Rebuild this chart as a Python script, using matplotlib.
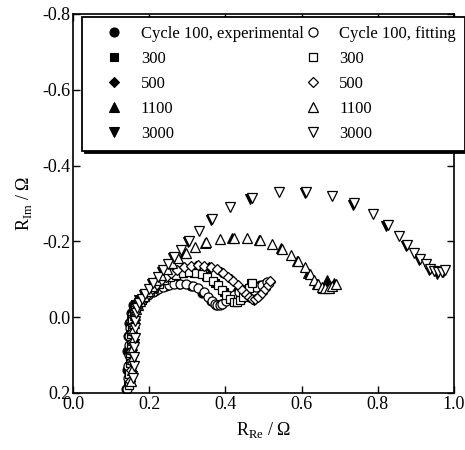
import matplotlib
matplotlib.use("Agg")
import matplotlib.pyplot as plt

plt.rcParams["font.family"] = ["Liberation Serif", "DejaVu Serif"]
plt.rcParams["mathtext.fontset"] = "custom"
plt.rcParams["mathtext.rm"] = "Liberation Serif"
plt.rcParams["axes.unicode_minus"] = False

# Cycle 100 -- fitting (open circles)
x100_fit = [0.143, 0.144, 0.145, 0.146, 0.147, 0.148, 0.150, 0.152, 0.155, 0.160, 0.167,
            0.176, 0.186, 0.197, 0.209, 0.222, 0.236, 0.251, 0.266, 0.282, 0.298, 0.314,
            0.329, 0.343, 0.355, 0.365, 0.373, 0.379, 0.385, 0.392, 0.401, 0.412, 0.424,
            0.437, 0.451, 0.466, 0.481, 0.496, 0.510]
y100_fit = [0.19, 0.16, 0.13, 0.10, 0.075, 0.05, 0.03, 0.01, -0.005, -0.02, -0.032,
            -0.042, -0.05, -0.058, -0.066, -0.073, -0.079, -0.084, -0.087, -0.088, -0.087, -0.083,
            -0.076, -0.066, -0.054, -0.043, -0.035, -0.031, -0.031, -0.035, -0.042, -0.050, -0.058,
            -0.066, -0.072, -0.076, -0.080, -0.085, -0.092]

# Cycle 300 -- fitting (open squares)
x300_fit = [0.147, 0.148, 0.149, 0.150, 0.151, 0.152, 0.154, 0.156, 0.159, 0.164, 0.171,
            0.180, 0.190, 0.201, 0.213, 0.226, 0.240, 0.255, 0.271, 0.288, 0.305, 0.322,
            0.338, 0.353, 0.367, 0.380, 0.392, 0.403, 0.413, 0.422, 0.430, 0.438, 0.446,
            0.454, 0.462, 0.470]
y300_fit = [0.18, 0.15, 0.12, 0.095, 0.07, 0.045, 0.025, 0.005, -0.01, -0.024, -0.035,
            -0.045, -0.055, -0.066, -0.077, -0.088, -0.098, -0.106, -0.112, -0.116, -0.118, -0.117,
            -0.113, -0.106, -0.096, -0.084, -0.071, -0.058, -0.047, -0.041, -0.040, -0.045, -0.054,
            -0.065, -0.077, -0.090]

# Cycle 500 -- fitting (open diamonds)
x500_fit = [0.150, 0.151, 0.152, 0.153, 0.154, 0.155, 0.157, 0.159, 0.162, 0.167, 0.174,
            0.183, 0.193, 0.204, 0.216, 0.229, 0.243, 0.258, 0.274, 0.291, 0.309, 0.327,
            0.345, 0.362, 0.378, 0.393, 0.407, 0.420, 0.432, 0.443, 0.453, 0.462, 0.471,
            0.479, 0.487, 0.495, 0.503, 0.511, 0.518]
y500_fit = [0.17, 0.14, 0.115, 0.09, 0.065, 0.04, 0.02, 0.0, -0.015, -0.028, -0.038,
            -0.048, -0.059, -0.071, -0.083, -0.095, -0.107, -0.117, -0.125, -0.131, -0.135, -0.137,
            -0.136, -0.132, -0.126, -0.117, -0.107, -0.096, -0.084, -0.072, -0.061, -0.052, -0.047,
            -0.047, -0.053, -0.063, -0.074, -0.085, -0.095]

# Cycle 1100 -- fitting (open up-triangles)
x1100_fit = [0.153, 0.154, 0.155, 0.156, 0.157, 0.158, 0.160, 0.162, 0.165, 0.170, 0.177,
             0.186, 0.196, 0.207, 0.219, 0.232, 0.246, 0.261, 0.277, 0.296, 0.320, 0.350,
             0.385, 0.422, 0.458, 0.492, 0.523, 0.550, 0.572, 0.592, 0.608, 0.622, 0.634,
             0.644, 0.653, 0.662, 0.671, 0.680, 0.690]
y1100_fit = [0.17, 0.14, 0.11, 0.085, 0.06, 0.035, 0.015, -0.005, -0.02, -0.033, -0.043,
             -0.055, -0.068, -0.082, -0.097, -0.112, -0.127, -0.142, -0.156, -0.170, -0.185, -0.198,
             -0.206, -0.209, -0.208, -0.203, -0.193, -0.180, -0.165, -0.148, -0.131, -0.114, -0.099,
             -0.087, -0.079, -0.076, -0.077, -0.081, -0.088]

# Cycle 3000 -- fitting (open down-triangles)
x3000_fit = [0.158, 0.159, 0.160, 0.161, 0.162, 0.163, 0.164, 0.166, 0.169, 0.174, 0.181,
             0.190, 0.200, 0.211, 0.223, 0.236, 0.250, 0.266, 0.284, 0.305, 0.330, 0.365,
             0.412, 0.470, 0.540, 0.612, 0.680, 0.738, 0.788, 0.826, 0.856, 0.878, 0.896,
             0.912, 0.926, 0.938, 0.949, 0.959, 0.968, 0.977]
y3000_fit = [0.16, 0.13, 0.105, 0.08, 0.055, 0.03, 0.01, -0.01, -0.025, -0.038, -0.048,
             -0.060, -0.074, -0.090, -0.106, -0.123, -0.140, -0.158, -0.177, -0.200, -0.226, -0.258,
             -0.290, -0.314, -0.329, -0.330, -0.320, -0.300, -0.272, -0.243, -0.215, -0.190, -0.170,
             -0.153, -0.139, -0.128, -0.121, -0.118, -0.119, -0.123]

# experimental points (filled)
x100_exp = [0.140, 0.141, 0.143, 0.145, 0.148, 0.152, 0.158, 0.170, 0.190, 0.215, 0.245,
            0.278, 0.310, 0.340, 0.362, 0.376, 0.388, 0.405, 0.430, 0.460, 0.490, 0.508]
y100_exp = [0.19, 0.14, 0.09, 0.05, 0.015, -0.01, -0.032, -0.042, -0.054, -0.070, -0.083,
            -0.087, -0.081, -0.063, -0.043, -0.031, -0.034, -0.047, -0.065, -0.077, -0.084, -0.091]

x300_exp = [0.144, 0.146, 0.148, 0.150, 0.153, 0.157, 0.163, 0.175, 0.195, 0.220, 0.250,
            0.284, 0.318, 0.348, 0.374, 0.396, 0.414, 0.428, 0.442, 0.456, 0.468]
y300_exp = [0.18, 0.13, 0.085, 0.045, 0.01, -0.015, -0.035, -0.046, -0.062, -0.085, -0.104,
            -0.115, -0.116, -0.108, -0.090, -0.066, -0.046, -0.039, -0.050, -0.070, -0.089]

x500_exp = [0.147, 0.149, 0.151, 0.153, 0.156, 0.160, 0.166, 0.178, 0.198, 0.224, 0.254,
            0.288, 0.324, 0.358, 0.388, 0.414, 0.437, 0.457, 0.474, 0.489, 0.504, 0.516]
y500_exp = [0.17, 0.125, 0.08, 0.04, 0.005, -0.02, -0.038, -0.050, -0.066, -0.090, -0.114,
            -0.130, -0.136, -0.133, -0.119, -0.101, -0.078, -0.057, -0.046, -0.055, -0.076, -0.093]

x1100_exp = [0.150, 0.152, 0.154, 0.156, 0.159, 0.163, 0.169, 0.182, 0.203, 0.228, 0.256,
             0.292, 0.346, 0.418, 0.488, 0.546, 0.588, 0.618, 0.640, 0.656, 0.668, 0.686]
y1100_exp = [0.165, 0.12, 0.075, 0.035, 0.0, -0.025, -0.040, -0.053, -0.079, -0.109, -0.139,
             -0.168, -0.196, -0.208, -0.203, -0.181, -0.149, -0.115, -0.088, -0.078, -0.098, -0.090]

x3000_exp = [0.155, 0.157, 0.159, 0.161, 0.164, 0.168, 0.174, 0.187, 0.208, 0.233, 0.263,
             0.302, 0.362, 0.466, 0.608, 0.734, 0.822, 0.874, 0.908, 0.934, 0.955, 0.972]
y3000_exp = [0.155, 0.11, 0.07, 0.03, -0.005, -0.03, -0.045, -0.058, -0.087, -0.120, -0.155,
             -0.197, -0.255, -0.311, -0.327, -0.297, -0.240, -0.187, -0.150, -0.125, -0.113, -0.118]

exp_series = [(x100_exp, y100_exp, "o", "Cycle 100, experimental"),
              (x300_exp, y300_exp, "s", "300"),
              (x500_exp, y500_exp, "D", "500"),
              (x1100_exp, y1100_exp, "^", "1100"),
              (x3000_exp, y3000_exp, "v", "3000")]
fit_series = [(x100_fit, y100_fit, "o", "Cycle 100, fitting"),
              (x300_fit, y300_fit, "s", "300"),
              (x500_fit, y500_fit, "D", "500"),
              (x1100_fit, y1100_fit, "^", "1100"),
              (x3000_fit, y3000_fit, "v", "3000")]

sizes = {"o": 6.5, "s": 6.0, "D": 5.0, "^": 7.0, "v": 7.0}

fig = plt.figure(figsize=(4.65, 4.5), dpi=100)
ax = fig.add_axes([0.157, 0.127, 0.819, 0.842])

handles = []
for xs, ys, m, lab in exp_series:
    h, = ax.plot(xs, ys, linestyle="none", marker=m, ms=sizes[m], mfc="black",
                 mec="black", mew=0.8, label=lab)
    handles.append(h)
for xs, ys, m, lab in fit_series:
    h, = ax.plot(xs, ys, linestyle="none", marker=m, ms=sizes[m], mfc="white",
                 mec="black", mew=0.9, label=lab)
    handles.append(h)

ax.set_xlim(0.0, 1.0)
ax.set_ylim(0.2, -0.8)
ax.set_xticks([0.0, 0.2, 0.4, 0.6, 0.8, 1.0])
ax.set_yticks([0.2, 0.0, -0.2, -0.4, -0.6, -0.8])
ax.set_xticklabels(["0.0", "0.2", "0.4", "0.6", "0.8", "1.0"])
ax.set_yticklabels(["0.2", "0.0", "-0.2", "-0.4", "-0.6", "-0.8"])
ax.tick_params(direction="in", top=True, right=True, length=5, width=1,
               labelsize=13, pad=2)
for sp in ax.spines.values():
    sp.set_linewidth(1.2)

ax.set_xlabel(r"R$_{\mathrm{Re}}$ / Ω", fontsize=13, labelpad=5)
ax.set_ylabel(r"R$_{\mathrm{Im}}$ / Ω", fontsize=13, labelpad=6)

leg = ax.legend(handles=handles, ncol=2, loc="upper left",
                bbox_to_anchor=(82 / 465, 1 - 17 / 450), bbox_transform=fig.transFigure,
                borderaxespad=0, fontsize=12, frameon=True, fancybox=False,
                shadow={"color": "black", "alpha": 1}, edgecolor="black",
                framealpha=1, handlelength=2.76, handletextpad=0.22,
                columnspacing=-0.85, labelspacing=0.53, borderpad=0.55)
leg.get_frame().set_linewidth(1.3)

fig.savefig("out.png", dpi=100)
